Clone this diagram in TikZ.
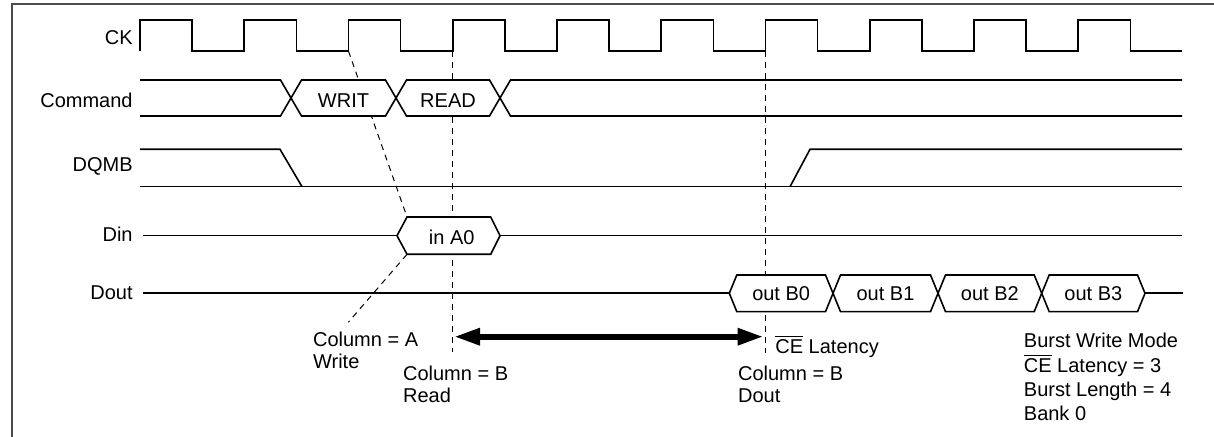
\documentclass[tikz,border=0pt]{standalone}
\usepackage{fontspec}
\setmainfont{Liberation Sans}
\usetikzlibrary{arrows.meta}

\begin{document}
\begin{tikzpicture}[x=0.5pt,y=-0.5pt,
  every node/.style={font=\fontsize{10}{11}\selectfont},
  wave/.style={line width=0.8pt, line join=miter},
  bus/.style={wave, fill=white},
  guide/.style={line width=0.5pt, dash pattern=on 3pt off 2.5pt},
  siglabel/.style={anchor=east, inner sep=0pt},
  note/.style={anchor=north west, inner sep=0pt, align=left}]
  \useasboundingbox (0,0) rectangle (1214,437);
  % Frame
  \draw[black!70, line width=0.6pt] (12,437) -- (12,4) -- (1214,4);

  % Signal names
  \node[siglabel] (ck) at (133,37.5) {CK};
  \node[siglabel] (cmd) at (133,100) {Command};
  \node[siglabel] (dqmb) at (133,166) {DQMB};
  \node[siglabel] (din) at (133,234) {Din};
  \node[siglabel] (dout) at (133,292.5) {Dout};

  % Timing guides
  \coordinate (ckW) at (348.4,51);
  \coordinate (ckR) at (452.7,51);
  \coordinate (ckL) at (765.4,51);
  \coordinate (dinTL) at (407,217);
  \coordinate (dinBL) at (407,254.3);
  \coordinate (colEnd) at (348.3,322.3);
  \coordinate (rdEnd) at (452.7,352);
  \coordinate (latEnd) at (765.4,353);
  \draw[guide] (ckW) -- (dinTL);
  \draw[guide] (dinBL) -- (colEnd);
  \draw[guide] (ckR) -- (rdEnd);
  \draw[guide] (ckL) -- (latEnd);

  % Clock
  \draw[wave] (140,51) -- (140,20)
    \foreach \k in {0,...,8} {
      -- ({192.1+104.25*\k},20) -- ({192.1+104.25*\k},51)
      -- ({244.25+104.25*\k},51) -- ({244.25+104.25*\k},20)}
    -- (1130.4,20) -- (1130.4,51) -- (1182,51);

  % Command bus
  \draw[wave] (140,80) -- (280.5,80) -- (291,98) -- (280.5,116) -- (140,116);
  \foreach \a/\b/\txt/\nm in {291/396/WRIT/writ, 396/500/READ/read} {
    \draw[bus] (\a,98) -- (\a+10.5,80) -- (\b-10.5,80) -- (\b,98) -- (\b-10.5,116) -- (\a+10.5,116) -- cycle;
    \node (\nm) at ({(\a+\b)/2},100.5) {\txt};
  }
  \draw[wave] (1182,80) -- (510.5,80) -- (500,98) -- (510.5,116) -- (1182,116);

  % DQMB
  \draw[wave] (140,149.3) -- (280,149.3) -- (302,186.7);
  \draw[wave] (140,186.7) -- (1182,186.7);
  \draw[wave] (790,186.7) -- (810,149.3) -- (1182,149.3);

  % Din
  \draw[wave] (143,235.7) -- (397,235.7);
  \draw[bus] (397,235.7) -- (407,217) -- (490.7,217) -- (500,235.7) -- (490.7,254.3) -- (407,254.3) -- cycle;
  \node (inA0) at (451.7,237.5) {in A0};
  \draw[wave] (500,235.7) -- (1182,235.7);

  % Dout
  \draw[wave] (143,293.3) -- (729.3,293.3);
  \foreach \a/\b/\txt in {729.3/833/B0, 833/938/B1, 938/1041.7/B2, 1041.7/1145/B3} {
    \draw[bus] (\a,293.3) -- (\a+7.5,275) -- (\b-7.5,275) -- (\b,293.3) -- (\b-7.5,311.7) -- (\a+7.5,311.7) -- cycle;
    \node (out\txt) at ({(\a+\b)/2},293.8) {out \txt};
  }
  \draw[wave] (1145,293.3) -- (1183,293.3);

  % Latency arrow
  \coordinate (latL) at (454,336.7);
  \coordinate (latR) at (763.5,336.7);
  \draw[line width=3pt, {Triangle[length=13pt 0,width=8pt 0]}-{Triangle[length=13pt 0,width=8pt 0]}] (latL) -- (latR);

  % Annotations
  \node[note] (colA) at (312.7,332) {Column = A\\Write};
  \node[note] (colRd) at (402.7,366) {Column = B\\Read};
  \node[anchor=base west, inner sep=0pt] (latTxt) at (775,353.2) {$\overline{\mbox{CE}}$ Latency};
  \node[note] (colDo) at (737.7,366) {Column = B\\Dout};
  \node[note, font=\fontsize{10}{12.2}\selectfont] (mode) at (1023.5,332.8)
    {Burst Write Mode\\$\overline{\mbox{CE}}$ Latency = 3\\Burst Length = 4\\Bank 0};
\end{tikzpicture}
\end{document}
